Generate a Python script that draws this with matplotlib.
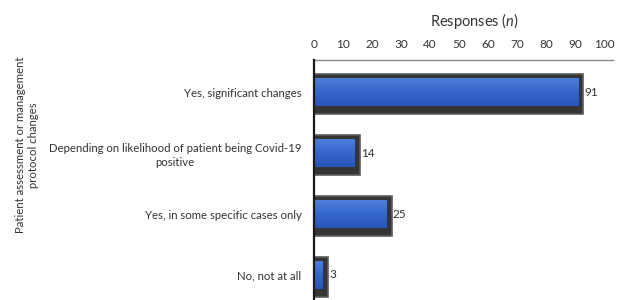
import matplotlib.pyplot as plt
import numpy as np
from matplotlib.colors import LinearSegmentedColormap

plt.rcParams['font.family'] = ['Lato', 'DejaVu Sans']
plt.rcParams['mathtext.fontset'] = 'custom'
plt.rcParams['mathtext.it'] = 'Lato:italic'
plt.rcParams['mathtext.rm'] = 'Lato'

categories = [
    "Yes, significant changes",
    "Depending on likelihood of patient being Covid-19\npositive",
    "Yes, in some specific cases only",
    "No, not at all",
]
responses = [91, 14, 25, 3]
x_ticks = [0, 10, 20, 30, 40, 50, 60, 70, 80, 90, 100]

TEXT = '#333333'

fig = plt.figure(figsize=(6.18, 3.0), dpi=100)
ax = fig.add_axes([314 / 618, 0.0, 299 / 618, 0.8])

y = np.arange(len(categories))

# dark shadow box behind each bar
ax.barh(y + 0.035, [v + 3.8 for v in responses], left=-2.1, height=0.66,
        color='#353535', edgecolor='#5c5c5c', linewidth=1.2, zorder=2)

# blue bars with a soft vertical gradient
bars = ax.barh(y, responses, height=0.46, color='#3c69cc', zorder=3)
cmap = LinearSegmentedColormap.from_list('blu', ['#5080dc', '#3566cc', '#2a55b8'])
grad = np.linspace(0, 1, 64).reshape(-1, 1)
for b in bars:
    x0, y0 = b.get_x(), b.get_y()
    im = ax.imshow(grad, extent=[x0, x0 + b.get_width(), y0 + b.get_height(), y0],
                   cmap=cmap, aspect='auto', zorder=4, interpolation='bicubic')
    im.set_clip_path(b)

for yi, v in zip(y, responses):
    ax.text(v + 2.2, yi, str(v), va='center', ha='left', fontsize=8.5, color=TEXT, zorder=5)

ax.set_xlim(0, 103)
ax.set_ylim(3.41, -0.525)
ax.set_aspect('auto')

ax.xaxis.tick_top()
ax.set_xticks(x_ticks)
ax.tick_params(axis='x', length=0, pad=7, labelsize=8.5, labelcolor=TEXT)
ax.set_yticks(y)
ax.set_yticklabels(categories)
for t in ax.get_yticklabels():
    t.set_multialignment('center')
    t.set_linespacing(1.3)
ax.tick_params(axis='y', length=0, pad=9, labelsize=8.2, labelcolor=TEXT)

for s in ['right', 'bottom']:
    ax.spines[s].set_visible(False)
ax.spines['top'].set_color('#8a8a8a')
ax.spines['top'].set_linewidth(1.0)
ax.spines['left'].set_color('#1a1a1a')
ax.spines['left'].set_linewidth(1.6)
ax.spines['left'].set_zorder(6)

fig.text(474 / 618, 1 - 21 / 300, r"Responses ($\it{n}$)", ha='center', va='center',
         fontsize=10.5, color=TEXT)
fig.text(27 / 618, 1 - 145 / 300, "Patient assessment or management\nprotocol changes",
         rotation=90, ha='center', va='center', multialignment='center',
         fontsize=8.2, color=TEXT, linespacing=1.3)

fig.savefig('out.png', dpi=100)
